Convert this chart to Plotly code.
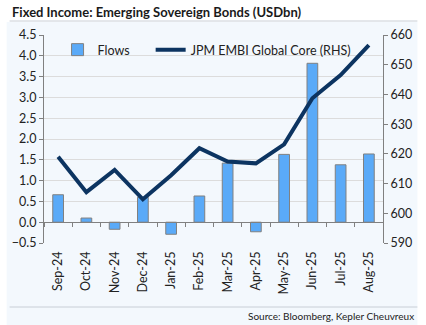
import plotly.graph_objects as go

months = ["Sep-24", "Oct-24", "Nov-24", "Dec-24", "Jan-25", "Feb-25",
          "Mar-25", "Apr-25", "May-25", "Jun-25", "Jul-25", "Aug-25"]
flows = [0.66, 0.10, -0.17, 0.60, -0.29, 0.63, 1.42, -0.23, 1.63, 3.82, 1.38, 1.64]
embi = [619.0, 607.1, 614.6, 604.7, 612.8, 621.9, 617.4, 616.8, 623.2, 638.7, 646.5, 656.6]

FONT = "Lato"
fig = go.Figure()
fig.add_trace(go.Bar(x=months, y=flows, name="Flows" + "\u00a0" * 5,
                     marker=dict(color="#5AAAF8", line=dict(color="#808080", width=1)),
                     width=0.38, xaxis="x", yaxis="y"))
fig.add_trace(go.Scatter(x=months, y=embi, name="JPM EMBI Global Core (RHS)",
                         mode="lines", line=dict(color="#0C3461", width=4),
                         xaxis="x", yaxis="y2"))
# invisible trace for zero-line tick axis
fig.add_trace(go.Scatter(x=months, y=[0] * len(months), mode="lines",
                         line=dict(width=0), showlegend=False, hoverinfo="skip",
                         xaxis="x3", yaxis="y"))

fig.update_layout(
    width=426, height=325,
    margin=dict(l=38, r=43, t=35, b=82),
    paper_bgcolor="white", plot_bgcolor="rgba(0,0,0,0)",
    font=dict(family=FONT, size=12, color="#222"),
    showlegend=True,
    legend=dict(orientation="h", x=0.04, y=1.0, xanchor="left", yanchor="top",
                bgcolor="rgba(0,0,0,0)", font=dict(size=12.5, color="#222"),
                itemwidth=30, tracegroupgap=0),
    bargap=0.6,
    xaxis=dict(type="category", showline=False, ticks="", showgrid=False,
               tickangle=-90, tickfont=dict(size=12.5), domain=[0, 1],
               range=[-0.5, 11.5], ticklabelstandoff=5),
    xaxis3=dict(type="category", overlaying="x", anchor="free", position=0.1,
                showline=True, linecolor="#808080", linewidth=1,
                ticks="outside", ticklen=4, tickcolor="#808080",
                tickson="boundaries", showticklabels=False, showgrid=False,
                range=[-0.5, 11.5]),
    yaxis=dict(range=[-0.5, 4.5], dtick=0.5, tickformat=".1f",
               showline=True, linecolor="#808080", linewidth=1,
               ticks="outside", ticklen=4, tickcolor="#808080",
               showgrid=True, gridcolor="#DCDCDC", gridwidth=1,
               zeroline=False, tickfont=dict(size=12.5)),
    yaxis2=dict(range=[590, 660], dtick=10, overlaying="y", side="right",
                showline=True, linecolor="#808080", linewidth=1,
                ticks="outside", ticklen=4, tickcolor="#808080",
                showgrid=False, zeroline=False, tickfont=dict(size=12.5)),
    shapes=[
        dict(type="rect", xref="paper", yref="paper", layer="below",
             x0=-38/345, x1=(418-38)/345, y0=-82/208, y1=(325-22)/208 - 82/208,
             fillcolor="#F3F8FD", line=dict(width=0)),
        dict(type="line", xref="paper", yref="paper",
             x0=-35/345, x1=(418-38)/345, y0=(243-21)/208, y1=(243-21)/208,
             line=dict(color="#C8CED6", width=1)),
        dict(type="line", xref="paper", yref="paper",
             x0=-35/345, x1=(418-38)/345, y0=(243-307)/208, y1=(243-307)/208,
             line=dict(color="#C8CED6", width=1)),
    ],
    annotations=[
        dict(text="<b>Fixed Income: Emerging Sovereign Bonds (USDbn)</b>",
             xref="paper", yref="paper", x=-35/345, y=(243-12)/208,
             xanchor="left", yanchor="middle", showarrow=False,
             font=dict(size=13, color="#1a1a1a", family=FONT)),
        dict(text="Source: Bloomberg, Kepler Cheuvreux",
             xref="paper", yref="paper", x=(417-38)/345, y=(243-316)/208,
             xanchor="right", yanchor="middle", showarrow=False,
             font=dict(size=10, color="#222", family=FONT)),
    ],
)
fig.write_html("out.html")
